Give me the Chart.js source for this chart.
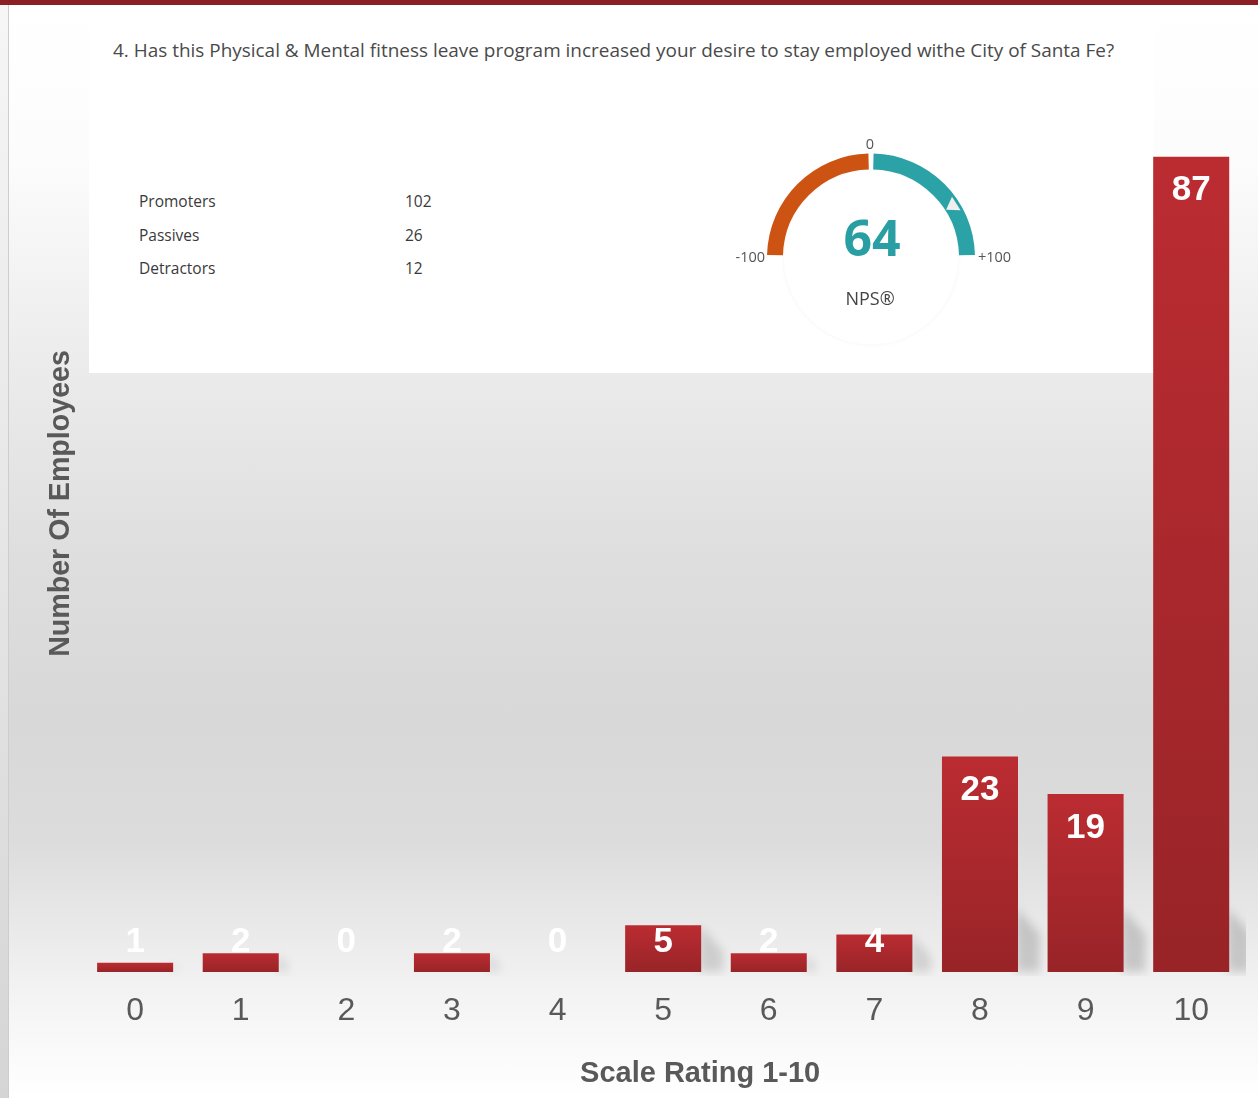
<!DOCTYPE html>
<html lang="en">
<head>
<meta charset="UTF-8">
<title>Scale Rating 1-10</title>
<script src="https://cdn.jsdelivr.net/npm/chart.js"></script>
<style>
  html, body { margin: 0; padding: 0; }
  body {
    width: 1258px; height: 1098px; position: relative; overflow: hidden;
    font-family: "Open Sans", "Noto Sans", sans-serif;
    background: linear-gradient(to bottom, #ffffff 0px, #fcfcfc 160px, #ebebeb 373px, #dedede 560px, #d8d8d8 720px, #dcdcdc 840px, #e8e8e8 920px, #f4f4f4 1000px, #ffffff 1098px);
  }
  #topbar { position: absolute; left: 0; top: 0; width: 1258px; height: 5px; background: #8c1f23; }
  #leftstrip { position: absolute; left: 0; top: 5px; width: 8px; height: 1093px; background: linear-gradient(#f6f6f6, #d5d5d5); border-right: 1px solid #cdcdcd; }
  #panel { position: absolute; left: 89px; top: 5px; width: 1065px; height: 368px; background: #fff; }
  #question { position: absolute; left: 24px; top: 35px; font-size: 18px; line-height: 20px; color: #4a4a4a; white-space: nowrap; }
  .row { position: absolute; font-size: 15.5px; line-height: 15px; color: #3a3a3a; white-space: nowrap; }
  #gauge { position: absolute; left: 721px; top: 57px; z-index: 2; }
  #chart { position: absolute; left: 0; top: 0; z-index: 3; }
</style>
</head>
<body>
<div id="topbar"></div>
<div id="leftstrip"></div>
<div id="panel">
  <span id="question">4. Has this Physical &amp; Mental fitness leave program increased your desire to stay employed withe City of Santa Fe?</span>
</div>
<canvas id="gauge" width="300" height="300"></canvas>
<canvas id="chart" width="1258" height="1098"></canvas>

<script>
  // bar chart data
  const categories = ['0', '1', '2', '3', '4', '5', '6', '7', '8', '9', '10'];
  const employees = [1, 2, 0, 2, 0, 5, 2, 4, 23, 19, 87];

  // NPS summary
  const npsGroups = ['Promoters', 'Passives', 'Detractors'];
  const npsCounts = [102, 26, 12];
  const npsScore = 64;
  const gaugeTicks = [-100, 0, 100];
  const gaugeTickLabels = ['-100', '0', '+100'];

  // summary table
  const panel = document.getElementById('panel');
  npsGroups.forEach((g, i) => {
    const top = 189 + i * 33.5;
    const a = document.createElement('span');
    a.className = 'row'; a.style.left = '50px'; a.style.top = top + 'px'; a.textContent = g;
    const b = document.createElement('span');
    b.className = 'row'; b.style.left = '316px'; b.style.top = top + 'px'; b.textContent = npsCounts[i];
    panel.appendChild(a); panel.appendChild(b);
  });

  // squeeze the question to the same width as the original
  const q = document.getElementById('question');
  q.style.fontSize = (18 * 1002 / q.getBoundingClientRect().width) + 'px';

  const axisFont = '"Liberation Sans", Arial, sans-serif';
  const gray = '#595959';

  // soft slanted shadow at the foot of each bar
  const barShadow = {
    id: 'barShadow',
    beforeDatasetsDraw(chart) {
      const ctx = chart.ctx;
      const area = chart.chartArea;
      ctx.save();
      ctx.beginPath();
      ctx.rect(area.left, area.top, area.right - area.left + 2, area.bottom - area.top + 4);
      ctx.clip();
      ctx.filter = 'blur(5px)';
      chart.getDatasetMeta(0).data.forEach(bar => {
        const h = bar.base - bar.y;
        if (h < 2) return;
        const s = Math.min(h, 64);
        const right = bar.x + bar.width / 2;
        const d = Math.min(s * 0.5, 22);
        ctx.fillStyle = 'rgba(0,0,0,' + (0.06 + 0.1 * s / 64).toFixed(3) + ')';
        ctx.beginPath();
        ctx.moveTo(right - 2, bar.base);
        ctx.lineTo(right - 2, bar.base - s);
        ctx.lineTo(right + d, bar.base - s + d * 1.2);
        ctx.lineTo(right + d, bar.base);
        ctx.closePath();
        ctx.fill();
      });
      ctx.restore();
    }
  };

  // value labels inside the bar tops
  const barLabels = {
    id: 'barLabels',
    afterDatasetsDraw(chart) {
      const ctx = chart.ctx;
      ctx.save();
      ctx.font = 'bold 35px ' + axisFont;
      ctx.fillStyle = '#ffffff';
      ctx.textAlign = 'center';
      ctx.textBaseline = 'middle';
      chart.getDatasetMeta(0).data.forEach((bar, i) => {
        const y = Math.min(bar.y + 34, bar.base - 30);
        ctx.fillText(String(employees[i]), bar.x, y);
      });
      ctx.restore();
    }
  };

  // x axis title, sits a bit right of centre in the original
  const xTitle = {
    id: 'xTitle',
    afterDraw(chart) {
      const ctx = chart.ctx;
      const area = chart.chartArea;
      ctx.save();
      ctx.font = 'bold 29px ' + axisFont;
      ctx.fillStyle = gray;
      ctx.textAlign = 'center';
      ctx.textBaseline = 'middle';
      ctx.fillText('Scale Rating 1-10', (area.left + area.right) / 2 + 37, 1074);
      ctx.restore();
    }
  };

  new Chart(document.getElementById('chart'), {
    type: 'bar',
    data: {
      labels: categories,
      datasets: [{
        data: employees,
        categoryPercentage: 1,
        barPercentage: 0.72,
        borderWidth: 0,
        backgroundColor: (c) => {
          const chart = c.chart;
          if (!chart.chartArea || c.raw === undefined) return '#a8282d';
          const yTop = chart.scales.y.getPixelForValue(c.raw);
          const yBase = chart.scales.y.getPixelForValue(0);
          if (yBase - yTop < 1) return '#a8282d';
          const g = chart.ctx.createLinearGradient(0, yTop, 0, yBase);
          g.addColorStop(0, '#bb2c31');
          g.addColorStop(1, '#982428');
          return g;
        }
      }]
    },
    options: {
      responsive: false,
      animation: false,
      events: [],
      layout: { padding: { left: 40, right: 14, top: 35, bottom: 47.6 } },
      plugins: { legend: { display: false }, tooltip: { enabled: false } },
      scales: {
        x: {
          grid: { display: false, drawTicks: false },
          border: { display: false },
          ticks: { color: gray, padding: 20, font: { family: axisFont, size: 32 } }
        },
        y: {
          min: 0,
          max: 100,
          grid: { display: false, drawTicks: false },
          border: { display: false },
          ticks: { display: false },
          title: {
            display: true,
            text: 'Number Of Employees',
            color: gray,
            padding: { top: 4, bottom: 4 },
            font: { family: axisFont, size: 28.6, weight: 'bold' }
          }
        }
      }
    },
    plugins: [barShadow, barLabels, xTitle]
  });

  // NPS gauge
  const gaugeSpans = gaugeTicks.slice(1).map((t, i) => t - gaugeTicks[i]);
  const gaugeDecor = {
    id: 'gaugeDecor',
    beforeDatasetsDraw(chart) {
      const arc = chart.getDatasetMeta(0).data[0];
      const ctx = chart.ctx;
      ctx.save();
      ctx.beginPath();
      ctx.arc(arc.x, arc.y, 87, 0, Math.PI * 2);
      ctx.shadowColor = 'rgba(0,0,0,0.05)';
      ctx.shadowBlur = 4;
      ctx.fillStyle = '#ffffff';
      ctx.fill();
      ctx.restore();
    },
    afterDatasetsDraw(chart) {
      const meta = chart.getDatasetMeta(0);
      const arc = meta.data[0];
      const cx = arc.x, cy = arc.y, R = arc.outerRadius + 3;
      const ctx = chart.ctx;
      const lo = gaugeTicks[0], hi = gaugeTicks[gaugeTicks.length - 1];
      // pointer
      const a = Math.PI * (1 + (npsScore - lo) / (hi - lo));
      const px = Math.cos(a), py = Math.sin(a);
      ctx.save();
      ctx.fillStyle = '#efefef';
      ctx.beginPath();
      ctx.moveTo(cx + px * (R - 15), cy + py * (R - 15));
      ctx.lineTo(cx + px * (R - 3) - py * 8, cy + py * (R - 3) + px * 8);
      ctx.lineTo(cx + px * (R - 3) + py * 8, cy + py * (R - 3) - px * 8);
      ctx.closePath();
      ctx.fill();
      // score
      ctx.textAlign = 'center';
      ctx.textBaseline = 'middle';
      ctx.fillStyle = '#2a9fa3';
      ctx.font = 'bold 50px "Open Sans", sans-serif';
      ctx.fillText(String(npsScore), cx + 1, cy - 16);
      ctx.fillStyle = '#444';
      ctx.font = '18px "Open Sans", sans-serif';
      ctx.fillText('NPS\u00ae', cx - 1, cy + 42);
      // range labels
      ctx.fillStyle = '#555';
      ctx.font = '14.5px "Open Sans", sans-serif';
      ctx.fillText(gaugeTickLabels[1], cx - 1, cy - R - 9);
      ctx.textAlign = 'right';
      ctx.fillText(gaugeTickLabels[0], cx - R - 2, cy);
      ctx.textAlign = 'left';
      ctx.fillText(gaugeTickLabels[2], cx + R + 3, cy);
      ctx.restore();
    }
  };

  new Chart(document.getElementById('gauge'), {
    type: 'doughnut',
    data: {
      labels: ['Detractor side', 'Promoter side'],
      datasets: [{
        data: gaugeSpans,
        backgroundColor: ['#cd5312', '#2ba2a6'],
        borderWidth: 0,
        spacing: 6
      }]
    },
    options: {
      responsive: false,
      animation: false,
      events: [],
      rotation: -90,
      circumference: 180,
      radius: 101,
      cutout: '84.2%',
      plugins: { legend: { display: false }, tooltip: { enabled: false } }
    },
    plugins: [gaugeDecor]
  });
</script>
</body>
</html>
